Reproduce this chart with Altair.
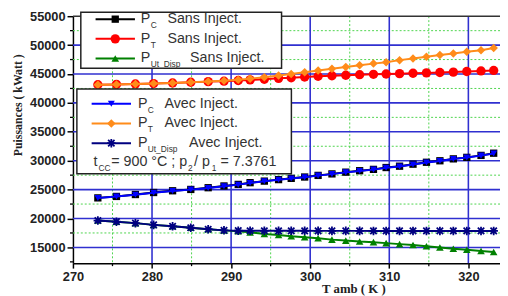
import altair as alt
import pandas as pd

# ---------------- data ----------------
T = [273.15, 275.5, 277.9, 280.2, 282.6, 284.9, 287.1, 289.1, 290.9, 292.4,
     294.2, 296.0, 297.6, 299.3, 301.0, 302.75, 304.5, 306.25, 308.0, 309.6,
     311.3, 313.0, 314.7, 316.4, 318.1, 319.8, 321.6, 323.2]

PC_sans = [23570, 23820, 24150, 24500, 24800, 25030, 25330, 25630, 25900, 26200,
           26470, 26730, 26950, 27180, 27460, 27720, 28020, 28270, 28500, 28820,
           29050, 29400, 29730, 29990, 30320, 30580, 30920, 31300]
PT_sans = [43150, 43200, 43280, 43350, 43450, 43570, 43680, 43760, 43880, 43980,
           44100, 44250, 44350, 44480, 44600, 44700, 44780, 44880, 44950, 45000,
           45060, 45130, 45190, 45260, 45330, 45430, 45530, 45620]
PU_sans = [19650, 19450, 19200, 18900, 18650, 18400, 18150, 17950, 17800, 17610,
           17320, 17150, 16930, 16760, 16590, 16350, 16180, 16010, 15910, 15740,
           15570, 15420, 15200, 14990, 14770, 14600, 14370, 14200]
PC_avec = [23540, 23790, 24110, 24460, 24760, 25000, 25290, 25590, 25860, 26160,
           26430, 26690, 26910, 27140, 27420, 27680, 27980, 28230, 28460, 28780,
           29010, 29360, 29690, 29950, 30280, 30540, 30880, 31260]
PT_avec = [43150, 43200, 43280, 43350, 43450, 43570, 43700, 43830, 44020, 44200,
           44430, 44750, 45000, 45300, 45600, 45900, 46200, 46500, 46800, 47050,
           47400, 47700, 48000, 48300, 48550, 48850, 49100, 49500]
PU_avec = [19650, 19450, 19200, 18900, 18650, 18400, 18150, 17950, 17900, 17880,
           17880, 17870, 17870, 17870, 17860, 17860, 17860, 17860, 17850, 17850,
           17850, 17850, 17850, 17850, 17850, 17850, 17850, 17850]

series_names = ["PC_sans", "PT_sans", "PU_sans", "PC_avec", "PT_avec", "PU_avec"]
series_vals = [PC_sans, PT_sans, PU_sans, PC_avec, PT_avec, PU_avec]
series_colors = ["#000000", "#ff0000", "#008000", "#0000ff", "#ff8c1a", "#000080"]
ASTER = "M-1,0L1,0M0,-1L0,1M-0.75,-0.75L0.75,0.75M-0.75,0.75L0.75,-0.75"
series_shapes = ["square", "circle", "triangle-up", "triangle-down", "diamond", ASTER]
series_sizes = [55, 90, 60, 50, 75, 75]

x_ticks = [270, 280, 290, 300, 310, 320]
x_minor = [275, 285, 295, 305, 315]
y_ticks = [15000, 20000, 25000, 30000, 35000, 40000, 45000, 50000, 55000]
y_grid_major = [15000, 20000, 25000, 30000, 35000, 40000, 45000, 50000]
y_minor = [12500, 17500, 22500, 27500, 32500, 37500, 42500, 47500, 52500]
y_grid_minor = [17500, 22500, 27500, 32500, 37500, 42500, 47500, 52500]

leg1_sub = ["C", "T", "Ut_Disp"]
leg1_txt = "Sans Inject."
leg2_sub = ["C", "T", "Ut_Disp"]
leg2_txt = "Avec Inject."

rows = []
for name, vals in zip(series_names, series_vals):
    for t, v in zip(T, vals):
        rows.append({"s": name, "T": t, "P": v})
df = pd.DataFrame(rows)

W, H = 434, 251
xs = alt.Scale(domain=[270, 324], nice=False, zero=False)
ys = alt.Scale(domain=[12270, 55000], nice=False, zero=False)

xaxis = alt.Axis(values=x_ticks, grid=False, tickSize=5, tickWidth=1.5, tickColor="#000",
                 domainColor="#000", domainWidth=1.5, labelFont="Liberation Sans",
                 labelFontWeight="bold", labelFontSize=13, labelColor="#222", labelPadding=3,
                 labelFlush=False, labelOverlap=False,
                 title="T amb ( K )", titleFont="Liberation Serif", titleFontWeight="bold",
                 titleFontSize=13, titleColor="#222", titleX=285, titleY=26,
                 titleAlign="center", titleBaseline="middle", format="d")
yaxis = alt.Axis(values=y_ticks, grid=False, tickSize=6, tickWidth=1.5, tickColor="#000",
                 domainColor="#000", domainWidth=1.5, labelFont="Liberation Sans",
                 labelFontWeight="bold", labelFontSize=13, labelColor="#222", labelPadding=2,
                 labelFlush=False, labelOverlap=False,
                 title="Puissances ( kWatt )", titleFont="Liberation Serif",
                 titleFontWeight="bold", titleFontSize=12, titleColor="#222",
                 titleX=-56, titleY=90, titleAngle=270, titleAlign="center",
                 titleBaseline="middle", format="d")

X = lambda f: alt.X(f, type="quantitative", scale=xs, axis=xaxis)
Y = lambda f: alt.Y(f, type="quantitative", scale=ys, axis=yaxis)

layers = []

# grid
gx_min = pd.DataFrame({"g": x_minor})
gx_maj = pd.DataFrame({"g": x_ticks[1:]})
gy_min = pd.DataFrame({"g": y_grid_minor})
gy_maj = pd.DataFrame({"g": y_grid_major})
green = "#4cd44c"
blue = "#3030d0"
layers.append(alt.Chart(gx_min).mark_rule(color=green, strokeWidth=1, strokeDash=[2, 2]).encode(
    x=X("g"), y=alt.value(0), y2=alt.value(H)))
layers.append(alt.Chart(gy_min).mark_rule(color=green, strokeWidth=1, strokeDash=[2, 2]).encode(
    y=Y("g"), x=alt.value(0), x2=alt.value(W)))
layers.append(alt.Chart(gx_maj).mark_rule(color=blue, strokeWidth=1.6).encode(
    x=X("g"), y=alt.value(0), y2=alt.value(H)))
layers.append(alt.Chart(gy_maj).mark_rule(color=blue, strokeWidth=1.6).encode(
    y=Y("g"), x=alt.value(0), x2=alt.value(W)))

# top frame
dummy = pd.DataFrame({"a": [0]})
layers.append(alt.Chart(dummy).mark_rule(color="#333", strokeWidth=1.6).encode(
    x=alt.value(0), x2=alt.value(W), y=alt.value(0)))

# minor ticks
layers.append(alt.Chart(pd.DataFrame({"g": x_minor})).mark_rule(color="#000", strokeWidth=1.3).encode(
    x=X("g"), y=alt.value(H), y2=alt.value(H + 3)))
layers.append(alt.Chart(pd.DataFrame({"g": y_minor})).mark_rule(color="#000", strokeWidth=1.3).encode(
    y=Y("g"), x=alt.value(-3), x2=alt.value(0)))

# series
for name, col, shp, sz in zip(series_names, series_colors, series_shapes, series_sizes):
    base = alt.Chart(df).transform_filter(alt.datum.s == name)
    layers.append(base.mark_line(color=col, strokeWidth=2).encode(x=X("T"), y=Y("P")))
    if shp == ASTER:
        layers.append(base.mark_point(shape=shp, size=sz, color=col, filled=False,
                                      strokeWidth=1.8, opacity=1).encode(x=X("T"), y=Y("P")))
    else:
        layers.append(base.mark_point(shape=shp, size=sz, color=col, filled=True,
                                      opacity=1).encode(x=X("T"), y=Y("P")))

# legend boxes
def box(x1, x2, y1, y2):
    return alt.Chart(dummy).mark_rect(fill="white", stroke="#222", strokeWidth=1.5).encode(
        x=alt.value(x1), x2=alt.value(x2), y=alt.value(y1), y2=alt.value(y2))

def txt(s, x, y, size=14.5):
    return alt.Chart(dummy).mark_text(text=s, align="left", baseline="middle", fontSize=size,
                                      font="Liberation Sans", color="#333").encode(
        x=alt.value(x), y=alt.value(y))

def sym(i, x1, x2, y):
    col = series_colors[i]
    out = [alt.Chart(dummy).mark_rule(color=col, strokeWidth=2).encode(
        x=alt.value(x1), x2=alt.value(x2), y=alt.value(y))]
    xm = (x1 + x2) / 2
    if series_shapes[i] == ASTER:
        out.append(alt.Chart(dummy).mark_point(shape=ASTER, size=series_sizes[i], color=col,
                                               filled=False, strokeWidth=1.8, opacity=1).encode(
            x=alt.value(xm), y=alt.value(y)))
    else:
        out.append(alt.Chart(dummy).mark_point(shape=series_shapes[i], size=series_sizes[i],
                                               color=col, filled=True, opacity=1).encode(
            x=alt.value(xm), y=alt.value(y)))
    return out

layers.append(box(8, 212, -4, 53))
for k, yy in enumerate([3, 23, 43]):
    layers += sym(k, 23, 63, yy)
    layers.append(txt("P", 69, yy))
    layers.append(txt(leg1_sub[k], 79, yy + 6, 8.5))
    layers.append(txt(leg1_txt, 96 if k < 2 else 119, yy))

layers.append(box(4, 222, 74, 160))
for k, yy in enumerate([89, 109, 129]):
    layers += sym(k + 3, 19, 59, yy)
    layers.append(txt("P", 66, yy))
    layers.append(txt(leg2_sub[k], 76, yy + 6, 8.5))
    layers.append(txt(leg2_txt, 93 if k < 2 else 118, yy))

ty = 148
layers.append(txt("t", 21, ty))
layers.append(txt("CC", 26, ty + 6, 8.5))
layers.append(txt("= 900 °C ; p", 39, ty))
layers.append(txt("2", 117, ty + 6, 8.5))
layers.append(txt("/ p", 123, ty))
layers.append(txt("1", 141, ty + 6, 8.5))
layers.append(txt("= 7.3761", 150, ty))

chart = alt.layer(*layers).properties(
    width=W, height=H,
    autosize=alt.AutoSizeParams(type="none"),
    padding={"left": 66, "top": 6, "right": 0, "bottom": 31},
).configure_view(strokeWidth=0)

chart.save("out.html", embed_options={"renderer": "svg", "actions": False})
